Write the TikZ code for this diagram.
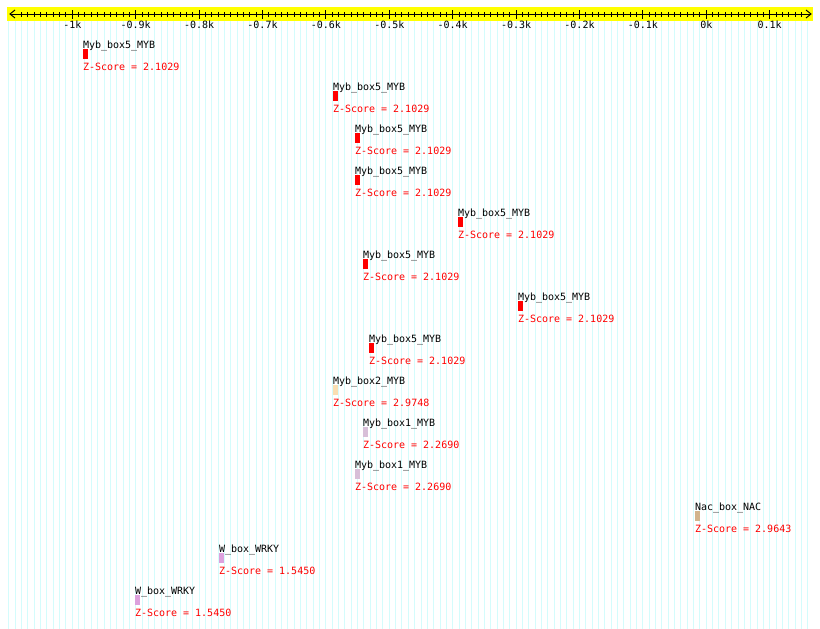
\documentclass[tikz,border=0pt]{standalone}
\usepackage{fontspec}
\setmonofont{DejaVu Sans Mono}
\definecolor{gridc}{RGB}{212,252,252}
\definecolor{rulery}{RGB}{255,255,0}
\definecolor{zred}{RGB}{255,0,0}
\definecolor{peach}{RGB}{250,222,178}
\definecolor{thistlec}{RGB}{216,191,216}
\definecolor{tanc}{RGB}{210,180,140}
\definecolor{plumc}{RGB}{221,160,221}
\begin{document}
\begin{tikzpicture}[x=1pt,y=-1pt,
  txt/.style={font=\ttfamily\fontsize{10}{10}\selectfont, inner sep=0pt, outer sep=0pt},
  lbl/.style={txt, anchor=base west},
  zlbl/.style={txt, anchor=base west, text=zred},
  axlbl/.style={txt, anchor=base},
  barbox/.style={anchor=north west, inner sep=0pt, outer sep=0pt, minimum width=5pt, minimum height=10pt, draw=none},
  axline/.style={line width=1pt, black}]
\useasboundingbox (0,0) rectangle (820,629);
\fill[white] (0,0) rectangle (820,629);
% grid
\foreach \k in {-110,...,16}
  \draw[gridc, line width=1pt] ({706.3+6.34*\k},21) -- ({706.3+6.34*\k},629);
% ruler band
\fill[rulery] (7,7) rectangle (813,20.7);
\draw[axline] (10,14) -- (811,14);
\draw[axline] (15,10) -- (10,14) -- (15,18);
\draw[axline] (806,10) -- (811,14) -- (806,18);
\foreach \k in {-108,...,15}
  \draw[axline] ({706.3+6.34*\k},12) -- ({706.3+6.34*\k},16.5);
\foreach \k/\t in {-100/-1k,-90/-0.9k,-80/-0.8k,-70/-0.7k,-60/-0.6k,-50/-0.5k,-40/-0.4k,-30/-0.3k,-20/-0.2k,-10/-0.1k,0/0k,10/0.1k}{
  \draw[axline] ({706.3+6.34*\k},10) -- ({706.3+6.34*\k},18.5);
  \node[axlbl] (ax\k) at ({706.3+6.34*\k},28.5) {\t};
}
% features
\foreach \i/\x/\nm/\c/\z in {
  1/83/Myb\_box5\_MYB/zred/2.1029,
  2/333/Myb\_box5\_MYB/zred/2.1029,
  3/355/Myb\_box5\_MYB/zred/2.1029,
  4/355/Myb\_box5\_MYB/zred/2.1029,
  5/458/Myb\_box5\_MYB/zred/2.1029,
  6/363/Myb\_box5\_MYB/zred/2.1029,
  7/518/Myb\_box5\_MYB/zred/2.1029,
  8/369/Myb\_box5\_MYB/zred/2.1029,
  9/333/Myb\_box2\_MYB/peach/2.9748,
  10/363/Myb\_box1\_MYB/thistlec/2.2690,
  11/355/Myb\_box1\_MYB/thistlec/2.2690,
  12/695/Nac\_box\_NAC/tanc/2.9643,
  13/219/W\_box\_WRKY/plumc/1.5450,
  14/135/W\_box\_WRKY/plumc/1.5450}{
  \pgfmathsetmacro\yy{44+42*(\i-1)}
  \node[lbl] (n\i) at (\x,\yy+4.5) {\nm};
  \node[barbox, fill=\c] (b\i) at (\x,\yy+5.3) {};
  \node[zlbl] (z\i) at (\x,\yy+26) {Z-Score = \z};
}
\end{tikzpicture}
\end{document}
